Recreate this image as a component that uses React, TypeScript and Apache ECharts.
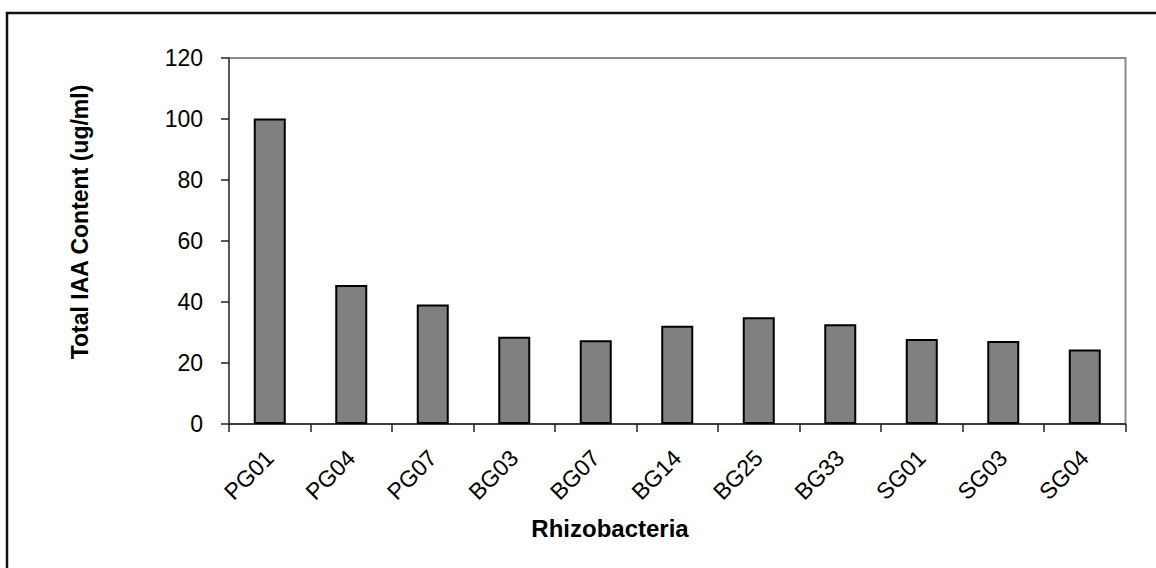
import React, { useEffect, useRef } from "react";
import * as echarts from "echarts";

const categories = ["PG01", "PG04", "PG07", "BG03", "BG07", "BG14", "BG25", "BG33", "SG01", "SG03", "SG04"];
const values = [100.2, 45.6, 39.2, 28.6, 27.5, 32.2, 35.0, 32.7, 27.9, 27.2, 24.4];
const yTicks = [0, 20, 40, 60, 80, 100, 120];
const yAxisTitle = "Total IAA Content (ug/ml)";
const xAxisTitle = "Rhizobacteria";

export default function App() {
  const ref = useRef<HTMLDivElement>(null);
  useEffect(() => {
    if (!ref.current) return;
    const chart = echarts.init(ref.current, undefined, { renderer: "svg" });
    const font = "Liberation Sans, Arial, sans-serif";
    chart.setOption({
      animation: false,
      backgroundColor: "#ffffff",
      grid: {
        left: 229,
        top: 58,
        right: 30.5,
        bottom: 144,
        show: true,
        borderColor: "#8a8a8a",
        borderWidth: 2,
        backgroundColor: "transparent",
      },
      xAxis: {
        type: "category",
        data: categories,
        boundaryGap: true,
        axisLine: { show: true, lineStyle: { color: "#222", width: 1.5 } },
        axisTick: { show: true, length: 8, lineStyle: { color: "#222", width: 1.5 } },
        axisLabel: {
          rotate: 45,
          margin: 30,
          color: "#000",
          fontSize: 23,
          fontFamily: font,
          interval: 0,
        },
        splitLine: { show: false },
      },
      yAxis: {
        type: "value",
        min: yTicks[0],
        max: yTicks[yTicks.length - 1],
        interval: 20,
        axisLine: { show: true, lineStyle: { color: "#444", width: 1.5 } },
        axisTick: { show: true, length: 8, lineStyle: { color: "#222", width: 1.5 } },
        axisLabel: {
          margin: 26,
          color: "#000",
          fontSize: 23,
          fontFamily: font,
        },
        splitLine: { show: false },
      },
      series: [
        {
          type: "bar",
          data: values,
          barWidth: 32,
          itemStyle: { color: "#808080", borderColor: "#000", borderWidth: 2 },
        },
      ],
      graphic: [
        {
          type: "rect",
          shape: { x: 7, y: 13, width: 1200, height: 700 },
          style: { fill: "none", stroke: "#111", lineWidth: 2.5 },
          silent: true,
          z: 100,
        },
        {
          type: "text",
          x: 80,
          y: 222,
          rotation: Math.PI / 2,
          style: {
            text: yAxisTitle,
            fontSize: 23,
            fontWeight: "bold",
            fontFamily: font,
            fill: "#000",
            align: "center",
            verticalAlign: "middle",
          },
        },
        {
          type: "text",
          x: 610,
          y: 528,
          style: {
            text: xAxisTitle,
            fontSize: 24,
            fontWeight: "bold",
            fontFamily: font,
            fill: "#000",
            align: "center",
            verticalAlign: "middle",
          },
        },
      ],
    });
    return () => chart.dispose();
  }, []);
  return (
    <div
      ref={ref}
      style={{ position: "fixed", left: 0, top: 0, width: 1156, height: 568 }}
    />
  );
}
